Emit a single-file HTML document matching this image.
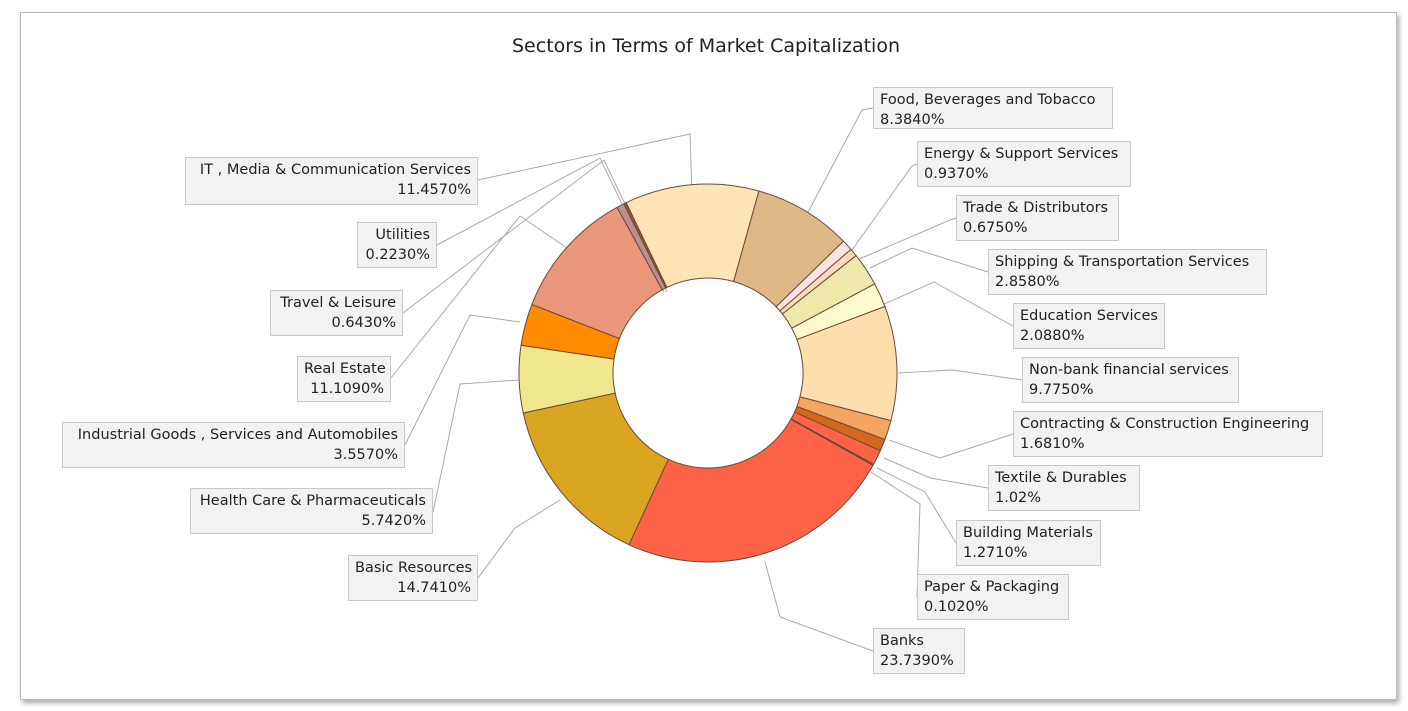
<!DOCTYPE html>
<html><head><meta charset="utf-8"><style>
body{margin:0;width:1408px;height:711px;background:#fff;overflow:hidden;font-family:"DejaVu Sans","Liberation Sans",sans-serif}
.card{position:absolute;left:20px;top:12px;width:1375px;height:686px;border:1px solid #bbb;box-shadow:2px 3px 5px rgba(0,0,0,.35);background:#fff}
.t{position:absolute;left:0;top:35px;width:1412px;text-align:center;font-size:19px;color:#222}
.b{position:absolute;background:#f2f2f2;border:1px solid #c8c8c8;font-size:14.5px;line-height:20px;color:#222;padding:2px 6px;box-sizing:border-box;white-space:nowrap}
.r{text-align:right}
svg{position:absolute;left:0;top:0}
</style></head><body>
<div class="card"></div>
<div class="t">Sectors in Terms of Market Capitalization</div>
<svg width="1408" height="711" id="s">
<g fill="none" stroke="#aaa" stroke-width="1">
<polyline points="478,180 690,134 692,192"/>
<polyline points="437,245 600,158 664,292"/>
<polyline points="403,313 604,160 667,292"/>
<polyline points="391,378 520,216 570,250"/>
<polyline points="405,445 470,315 520,322"/>
<polyline points="433,512 460,384 519,380"/>
<polyline points="478,578 515,528 560,500"/>
<polyline points="873,108 862,110 806,216"/>
<polyline points="917,164 912,166 852,250"/>
<polyline points="956,218 950,220 857,260"/>
<polyline points="988,272 912,248 870,268"/>
<polyline points="1013,326 934,282 882,305"/>
<polyline points="1022,380 952,370 898,373"/>
<polyline points="1013,434 940,458 889,440"/>
<polyline points="988,488 930,478 884,458"/>
<polyline points="956,543 925,492 877,468"/>
<polyline points="917,597 920,504 871,472"/>
<polyline points="873,651 780,617 765,562"/>
</g>
<g id="p" stroke="#6b4a3a" stroke-width="1"></g>
</svg>
<div class="b" style="left:873px;top:87px;width:240px;height:42px">Food, Beverages and Tobacco<br>8.3840%</div>
<div class="b" style="left:917px;top:141px;width:214px;height:46px">Energy &amp; Support Services<br>0.9370%</div>
<div class="b" style="left:956px;top:195px;width:163px;height:46px">Trade &amp; Distributors<br>0.6750%</div>
<div class="b" style="left:988px;top:249px;width:279px;height:46px">Shipping &amp; Transportation Services<br>2.8580%</div>
<div class="b" style="left:1013px;top:303px;width:152px;height:46px">Education Services<br>2.0880%</div>
<div class="b" style="left:1022px;top:357px;width:217px;height:46px">Non-bank financial services<br>9.7750%</div>
<div class="b" style="left:1013px;top:411px;width:310px;height:46px">Contracting &amp; Construction Engineering<br>1.6810%</div>
<div class="b" style="left:988px;top:465px;width:152px;height:46px">Textile &amp; Durables<br>1.02%</div>
<div class="b" style="left:956px;top:520px;width:145px;height:46px">Building Materials<br>1.2710%</div>
<div class="b" style="left:917px;top:574px;width:152px;height:46px">Paper &amp; Packaging<br>0.1020%</div>
<div class="b" style="left:873px;top:628px;width:92px;height:46px">Banks<br>23.7390%</div>
<div class="b r" style="left:185px;top:157px;width:293px;height:48px">IT , Media &amp; Communication Services<br>11.4570%</div>
<div class="b r" style="left:357px;top:222px;width:80px;height:46px">Utilities<br>0.2230%</div>
<div class="b r" style="left:270px;top:290px;width:133px;height:46px">Travel &amp; Leisure<br>0.6430%</div>
<div class="b r" style="left:297px;top:356px;width:94px;height:46px">Real Estate<br>11.1090%</div>
<div class="b r" style="left:62px;top:422px;width:343px;height:46px">Industrial Goods , Services and Automobiles<br>3.5570%</div>
<div class="b r" style="left:190px;top:488px;width:243px;height:46px">Health Care &amp; Pharmaceuticals<br>5.7420%</div>
<div class="b r" style="left:348px;top:555px;width:130px;height:46px">Basic Resources<br>14.7410%</div>
<script>
var d=[[8.384,"#DEB887"],[0.937,"#FFE4E1"],[0.675,"#FFDAB9"],[2.858,"#EEE8AA"],[2.088,"#FFFACD"],[9.775,"#FFDEAD"],[1.681,"#F4A460"],[1.02,"#D2691E"],[1.271,"#FF6347"],[0.102,"#8B4513"],[23.739,"#FF6347"],[14.741,"#DAA520"],[5.742,"#F0E68C"],[3.557,"#FF8C00"],[11.109,"#E9967A"],[0.643,"#BC8F8F"],[0.223,"#A0522D"],[11.457,"#FFE4B5"]];
var tot=0;d.forEach(function(x){tot+=x[0]});
var cx=708,cy=373,R=189,r=95,a=15.6*Math.PI/180,h="";
function P(rr,t){return (cx+rr*Math.sin(t)).toFixed(2)+","+(cy-rr*Math.cos(t)).toFixed(2)}
d.forEach(function(x){var b=a+x[0]/tot*2*Math.PI,l=(b-a)>Math.PI?1:0;
h+='<path fill="'+x[1]+'" d="M'+P(R,a)+' A'+R+','+R+' 0 '+l+' 1 '+P(R,b)+' L'+P(r,b)+' A'+r+','+r+' 0 '+l+' 0 '+P(r,a)+' Z"/>';a=b;});
document.getElementById("p").innerHTML=h;
</script>
</body></html>
